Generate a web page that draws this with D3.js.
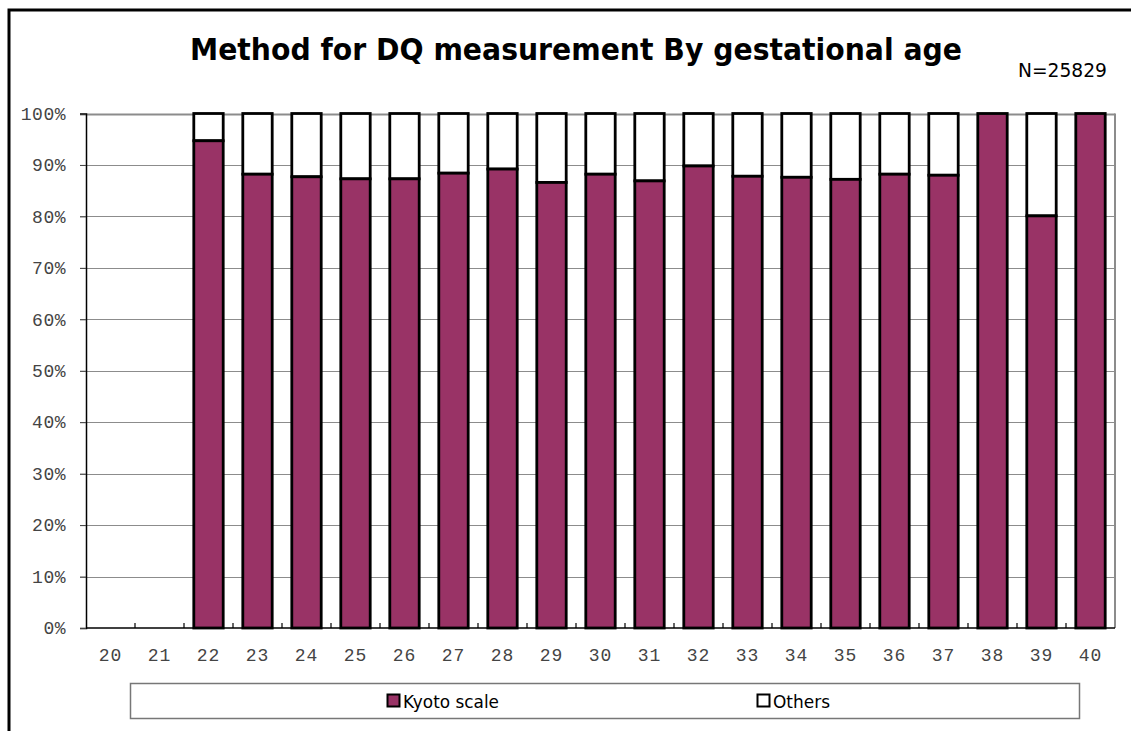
<!DOCTYPE html>
<html><head><meta charset="utf-8">
<script src="https://cdn.jsdelivr.net/npm/d3@7"></script>
<style>body{margin:0;background:#fff}svg{display:block}</style>
</head><body><svg id="c" width="1131" height="731"></svg>
<script>
const categories = ["20","21","22","23","24","25","26","27","28","29","30","31","32","33","34","35","36","37","38","39","40"];
const kyoto  = [null,null,94.7,88.2,87.7,87.3,87.3,88.4,89.2,86.6,88.2,86.9,89.8,87.8,87.6,87.2,88.2,88.0,100,80.1,100];
const others = [null,null,5.3,11.8,12.3,12.7,12.7,11.6,10.8,13.4,11.8,13.1,10.2,12.2,12.4,12.8,11.8,12.0,0,19.9,0];
const yTicks = [0,10,20,30,40,50,60,70,80,90,100];
const seriesNames = ["Kyoto scale","Others"];
const seriesColors = ["#993366","#ffffff"];
const titleText = "Method for DQ measurement By gestational age";
const noteText = "N=25829";

const svg = d3.select("#c");
const m = {left:86, right:1115, top:113.5, bottom:628};
const x = d3.scaleBand().domain(categories).range([m.left, m.right]).paddingInner(0.4).paddingOuter(0.2);
const xb = d3.scaleBand().domain(categories).range([m.left, m.right]);
const y = d3.scaleLinear().domain([0,100]).range([m.bottom, m.top]);

// outer frame
svg.append("path").attr("d", `M9,740 L9,10 L1140,10`).attr("fill","none").attr("stroke","#000").attr("stroke-width",3);

// gridlines
svg.append("g").selectAll("line").data(yTicks.filter(d=>d>0)).join("line")
  .attr("x1", m.left-6).attr("x2", m.right)
  .attr("y1", d=>Math.round(y(d))+0.5).attr("y2", d=>Math.round(y(d))+0.5)
  .attr("stroke", "#8c8c8c").attr("stroke-width", d=> d===100?2:1);
// right border
svg.append("line").attr("x1",m.right).attr("x2",m.right).attr("y1",m.top).attr("y2",m.bottom)
  .attr("stroke","#8c8c8c").attr("stroke-width",2);

// y axis
const yAxis = d3.axisLeft(y).tickValues(yTicks).tickFormat(d=>d+"%").tickSize(6).tickPadding(14);
const gy = svg.append("g").attr("transform",`translate(${m.left},0)`).call(yAxis);
gy.select(".domain").attr("stroke","#000").attr("stroke-width",1.5);
gy.selectAll(".tick line").attr("stroke","#444");
gy.selectAll("text").attr("font-family","Liberation Mono, monospace").attr("font-size",18)
  .attr("fill","#444").attr("letter-spacing",0.5);

// x axis
const xAxis = d3.axisBottom(x).tickSize(0).tickPadding(20);
const gx = svg.append("g").attr("transform",`translate(0,${m.bottom})`).call(xAxis);
gx.select(".domain").remove();
gx.selectAll("text").attr("font-family","Liberation Mono, monospace").attr("font-size",18)
  .attr("fill","#444").attr("letter-spacing",1);
// bottom axis line and inward ticks at band boundaries
svg.append("line").attr("x1",m.left).attr("x2",m.right).attr("y1",m.bottom).attr("y2",m.bottom)
  .attr("stroke","#000").attr("stroke-width",1.5);
svg.append("g").selectAll("line").data(categories.slice(1)).join("line")
  .attr("x1",d=>xb(d)).attr("x2",d=>xb(d)).attr("y1",m.bottom).attr("y2",m.bottom-5)
  .attr("stroke","#000").attr("stroke-width",1.2);

// stacked bars
const data = categories.map((c,i)=>({c, k:kyoto[i], o:others[i]})).filter(d=>d.k!==null);
const bars = svg.append("g");
bars.selectAll("rect.o").data(data.filter(d=>d.o>0)).join("rect").attr("class","o")
  .attr("x",d=>x(d.c)).attr("width",x.bandwidth())
  .attr("y",d=>y(d.k+d.o)).attr("height",d=>y(d.k)-y(d.k+d.o))
  .attr("fill",seriesColors[1]).attr("stroke","#000").attr("stroke-width",2.8);
bars.selectAll("rect.k").data(data).join("rect").attr("class","k")
  .attr("x",d=>x(d.c)).attr("width",x.bandwidth())
  .attr("y",d=>y(d.k)).attr("height",d=>y(0)-y(d.k))
  .attr("fill",seriesColors[0]).attr("stroke","#000").attr("stroke-width",2.8);

// title
svg.append("text").attr("x",576).attr("y",60).attr("text-anchor","middle")
  .attr("font-family","DejaVu Sans, sans-serif").attr("font-weight","bold").attr("font-size",30)
  .attr("textLength",772).attr("lengthAdjust","spacingAndGlyphs")
  .text(titleText);
svg.append("text").attr("x",1107).attr("y",77).attr("text-anchor","end")
  .attr("font-family","DejaVu Sans, sans-serif").attr("font-size",19).attr("textLength",89).attr("lengthAdjust","spacingAndGlyphs")
  .text(noteText);

// legend
svg.append("rect").attr("x",130.5).attr("y",683.5).attr("width",949).attr("height",35)
  .attr("fill","#fff").attr("stroke","#777").attr("stroke-width",1.5);
const legX = [387,757];
const leg = svg.append("g").selectAll("g").data(seriesNames).join("g")
  .attr("transform",(d,i)=>`translate(${legX[i]},694)`);
leg.append("rect").attr("x",0.5).attr("y",0.5).attr("width",12).attr("height",12)
  .attr("fill",(d,i)=>seriesColors[i]).attr("stroke","#000").attr("stroke-width",2);
leg.append("text").attr("x",16).attr("y",14)
  .attr("font-family","DejaVu Sans, sans-serif").attr("font-size",18)
  .attr("textLength",(d,i)=>[96,57][i]).attr("lengthAdjust","spacingAndGlyphs")
  .text(d=>d);
</script></body></html>
